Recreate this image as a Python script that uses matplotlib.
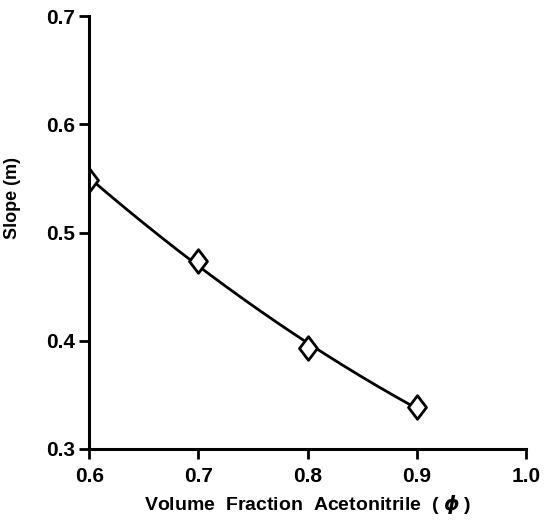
import numpy as np
import matplotlib.pyplot as plt
from matplotlib.path import Path

# volume fraction of acetonitrile vs slope
phi = [0.6, 0.7, 0.8, 0.9]
slope = [0.549, 0.474, 0.393, 0.339]

x_ticks = [0.6, 0.7, 0.8, 0.9, 1.0]
x_labels = ["0.6", "0.7", "0.8", "0.9", "1.0"]
y_ticks = [0.3, 0.4, 0.5, 0.6, 0.7]
y_labels = ["0.3", "0.4", "0.5", "0.6", "0.7"]

plt.rcParams['font.family'] = ['Liberation Sans', 'DejaVu Sans']
plt.rcParams['font.weight'] = 'bold'

# taller-than-wide diamond, like the hand drawn symbols
diamond = Path([(0, 1), (0.76, 0), (0, -1), (-0.76, 0), (0, 1)],
               [Path.MOVETO, Path.LINETO, Path.LINETO, Path.LINETO, Path.CLOSEPOLY])

fig = plt.figure(figsize=(5.47, 5.22), dpi=100)
ax = fig.add_axes([0.163, 0.140, 0.799, 0.829])

# smooth curve through the points
coef = np.polyfit(phi, slope, 2)
xs = np.linspace(min(phi), max(phi), 200)
ax.plot(xs, np.polyval(coef, xs), color="black", linewidth=2, zorder=2)
ax.plot(phi, slope, linestyle="none", marker=diamond, markersize=17,
        markerfacecolor="white", markeredgecolor="black", markeredgewidth=2, zorder=2.2)

ax.set_xlim(0.6, 1.0)
ax.set_ylim(0.3, 0.7)
ax.set_xticks(x_ticks)
ax.set_xticklabels(x_labels, fontsize=15, fontweight="bold")
ax.set_yticks(y_ticks)
ax.set_yticklabels(y_labels, fontsize=15, fontweight="bold")

ax.spines['top'].set_visible(False)
ax.spines['right'].set_visible(False)
for s in ['left', 'bottom']:
    ax.spines[s].set_linewidth(2.2)
ax.tick_params(direction="out", length=7, width=2, pad=3)
ax.tick_params(axis="x", pad=6)

ax.set_xlabel("Volume  Fraction  Acetonitrile  ( $\\phi$ )", fontsize=14, fontweight="bold", labelpad=6)
ax.set_ylabel("Slope (m)", fontsize=13, fontweight="bold")
ax.yaxis.set_label_coords(-0.155, 0.58)

plt.savefig("out.png", dpi=100)
